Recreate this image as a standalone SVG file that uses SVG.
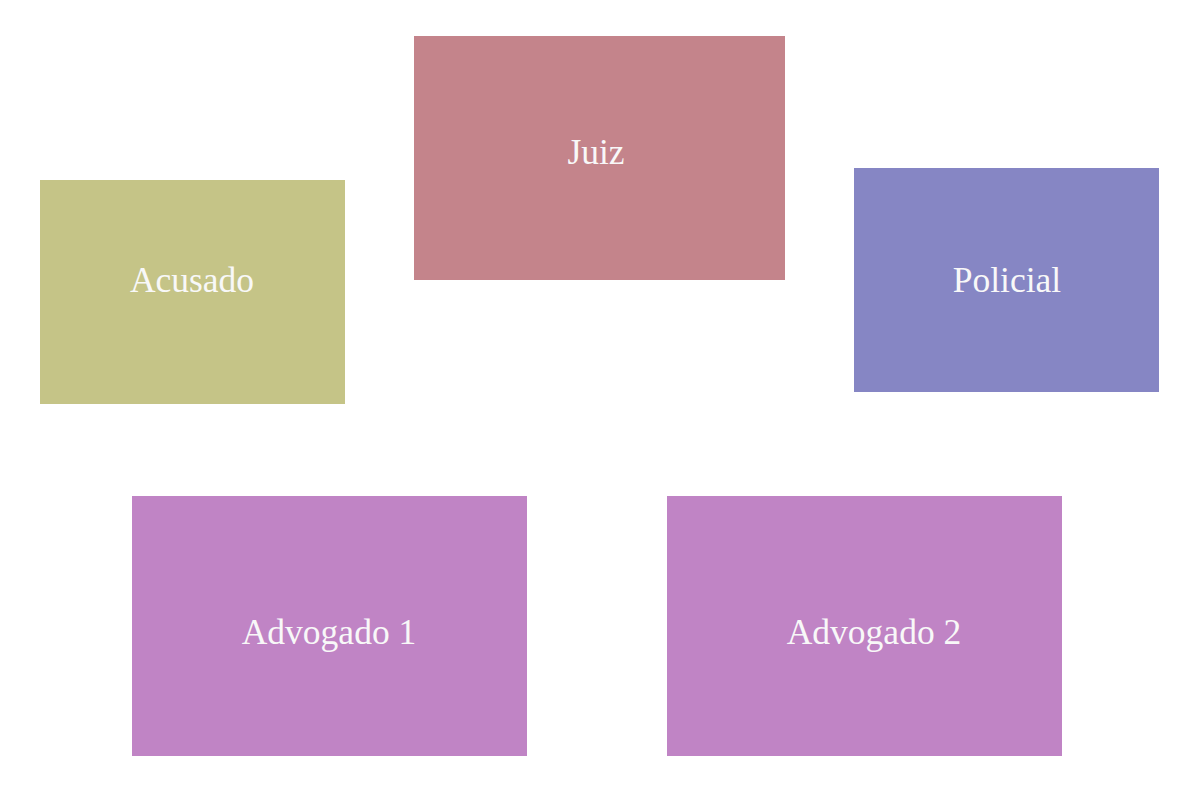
<svg xmlns="http://www.w3.org/2000/svg" width="1200" height="800" viewBox="0 0 1200 800">
<style>
.lbl{font-family:"Liberation Serif","Times New Roman",serif;font-size:35.5px;fill:#f8f8f8;text-anchor:middle}
</style>
<rect width="1200" height="800" fill="#ffffff"/>
<g id="connectors"></g>
<g id="juiz"><rect x="414" y="36" width="371" height="244" fill="#c4848b"/><text class="lbl" x="596" y="164">Juiz</text></g>
<g id="acusado"><rect x="40" y="180" width="305" height="224" fill="#c5c487"/><text class="lbl" x="192" y="292">Acusado</text></g>
<g id="policial"><rect x="854" y="168" width="305" height="224" fill="#8686c4"/><text class="lbl" x="1007" y="292">Policial</text></g>
<g id="advogado1"><rect x="132" y="496" width="395" height="260" fill="#c084c5"/><text class="lbl" x="329" y="644">Advogado 1</text></g>
<g id="advogado2"><rect x="667" y="496" width="395" height="260" fill="#c084c5"/><text class="lbl" x="874" y="644">Advogado 2</text></g>
</svg>
